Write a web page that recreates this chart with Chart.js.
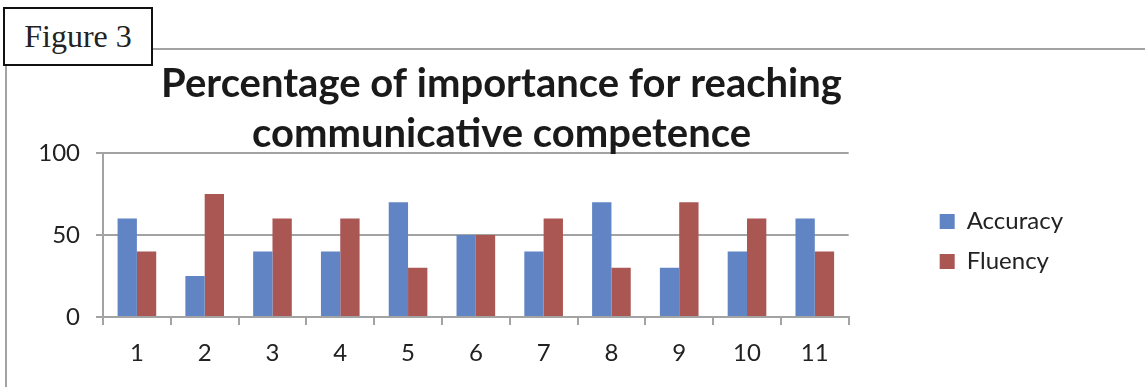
<!DOCTYPE html>
<html>
<head>
<meta charset="utf-8">
<script src="https://cdn.jsdelivr.net/npm/chart.js@4.4.1/dist/chart.umd.min.js"></script>
<style>
  html, body { margin: 0; padding: 0; background: #fff; overflow: hidden; }
  body { width: 1145px; height: 387px; position: relative; }
  .frame {
    position: absolute; left: 5px; top: 48px; right: -10px; bottom: -10px;
    border-top: 2px solid #a3a3a3; border-left: 2px solid #a3a3a3;
  }
  .fig-label {
    position: absolute; left: 3px; top: 7px; width: 146px; height: 55px;
    border: 2px solid #111; background: #fff;
    font-family: "Liberation Serif", serif; font-size: 32px; color: #222;
    line-height: 55px; padding-left: 0; text-align: center;
  }
  .chart-box { position: absolute; left: -70px; top: 0; width: 1143px; height: 387px; }
</style>
</head>
<body>
<div class="frame"></div>
<div class="chart-box"><canvas id="chart"></canvas></div>
<div class="fig-label">Figure 3</div>
<script>
const categories = ['1', '2', '3', '4', '5', '6', '7', '8', '9', '10', '11'];
const accuracy = [60, 25, 40, 40, 70, 50, 40, 70, 30, 40, 60];
const fluency = [40, 75, 60, 60, 30, 50, 60, 30, 70, 60, 40];
const titleLines = ['Percentage of importance for reaching', 'communicative competence'];
const yMax = 100;
const yStep = 50;

const axisGray = '#a3a3a3';
const textColor = '#222222';
const font = 'Lato';

const ctx = document.getElementById('chart');

new Chart(ctx, {
  type: 'bar',
  data: {
    labels: categories,
    datasets: [
      {
        label: 'Accuracy',
        data: accuracy,
        backgroundColor: '#6084c4',
        borderWidth: 0,
      },
      {
        label: 'Fluency',
        data: fluency,
        backgroundColor: '#aa5653',
        borderWidth: 0,
      },
    ],
  },
  options: {
    responsive: true,
    maintainAspectRatio: false,
    animation: false,
    categoryPercentage: 0.57,
    barPercentage: 1.0,
    layout: {
      padding: 0,
    },
    plugins: {
      title: {
        display: true,
        text: titleLines,
        color: '#1a1a1a',
        font: { family: font, size: 40, weight: 'bold', lineHeight: '50px' },
        padding: { top: 59, bottom: -6 },
      },
      legend: {
        position: 'right',
        fullSize: false,
        // empty title only nudges the items down a bit
        title: {
          display: true,
          text: '',
          font: { size: 10, lineHeight: '13px' },
          padding: 0,
        },
        labels: {
          color: textColor,
          font: { family: font, size: 24 },
          boxWidth: 15,
          boxHeight: 15,
          padding: 16,
        },
      },
      tooltip: { enabled: false },
    },
    scales: {
      x: {
        grid: {
          display: true,
          drawOnChartArea: false,
          drawTicks: true,
          tickLength: 8,
          color: axisGray,
          lineWidth: 2,
        },
        border: { display: true, color: axisGray, width: 2 },
        ticks: {
          color: textColor,
          font: { family: font, size: 24 },
          padding: 14,
        },
        afterFit: (scale) => {
          scale.height = 70;
        },
      },
      y: {
        min: 0,
        max: yMax,
        ticks: {
          stepSize: yStep,
          color: textColor,
          font: { family: font, size: 24 },
          padding: 16,
        },
        grid: {
          color: axisGray,
          lineWidth: 2,
          tickLength: 7,
        },
        border: { display: true, color: axisGray, width: 2 },
        afterFit: (scale) => {
          scale.width = 173;
        },
      },
      y2: {
        position: 'right',
        display: true,
        grid: { display: false },
        border: { display: false },
        ticks: { display: false },
        afterFit: (scale) => {
          scale.width = 75;
        },
      },
    },
  },
});
</script>
</body>
</html>
